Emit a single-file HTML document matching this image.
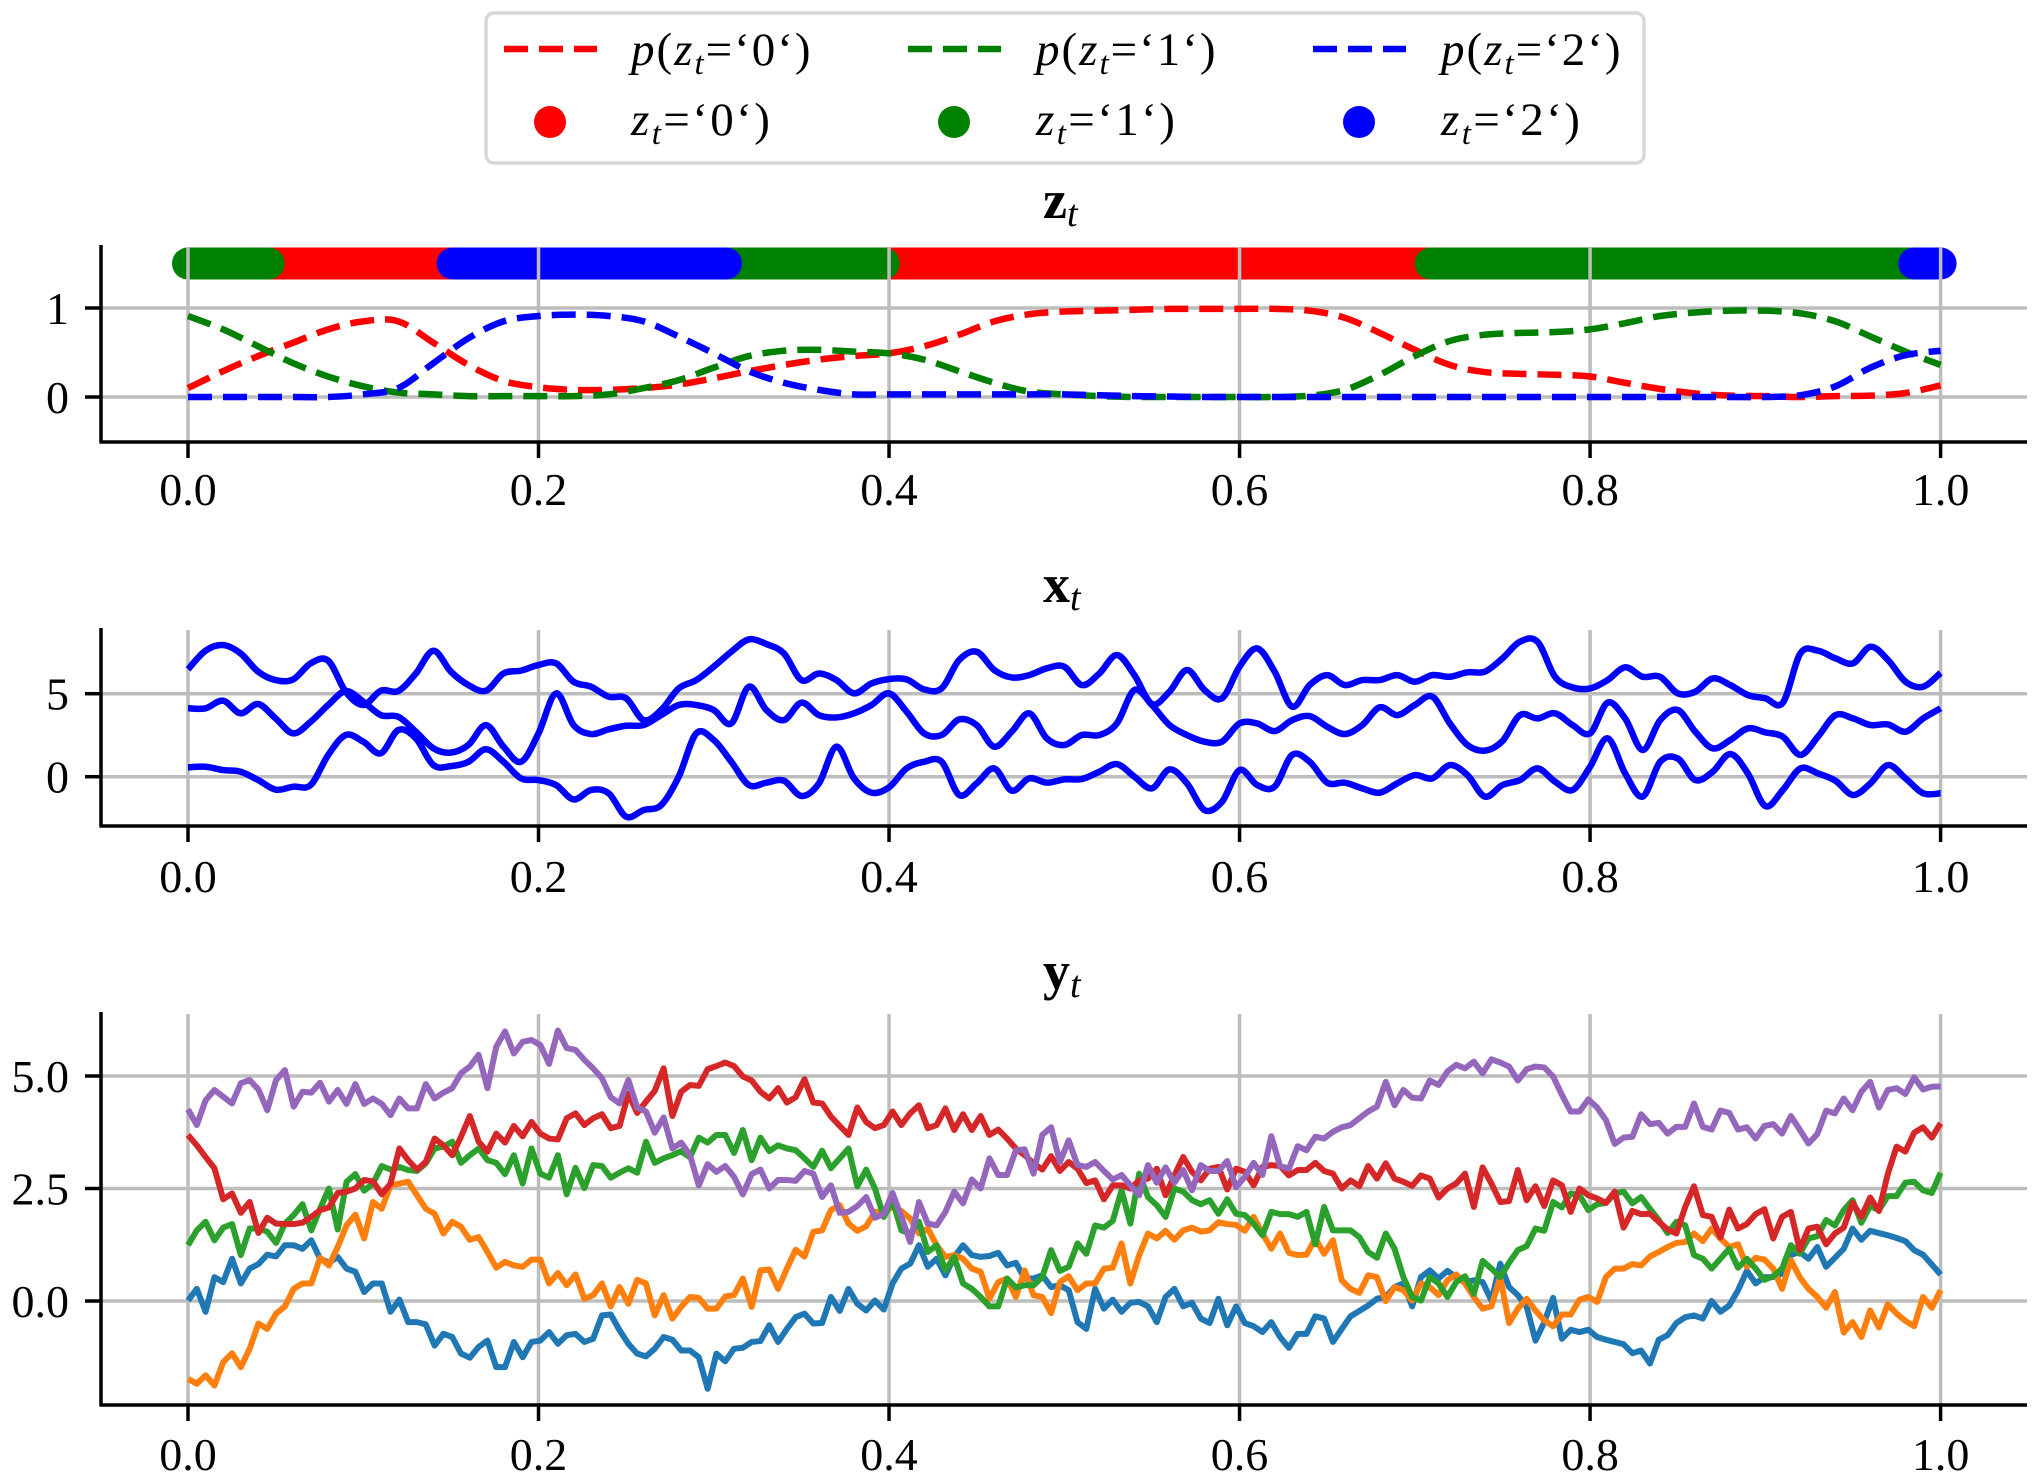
<!DOCTYPE html>
<html lang="en">
<head>
<meta charset="utf-8">
<title>Latent state, continuous state and observation time series</title>
<style>
html,body{margin:0;padding:0;background:#fff;}
svg{display:block;font-family:"Liberation Serif","DejaVu Serif",serif;}
</style>
</head>
<body>
<svg id="figure" xmlns="http://www.w3.org/2000/svg" width="2040" height="1481" viewBox="0 0 2040 1481">
  <rect x="0" y="0" width="2040" height="1481" fill="#fff"/>
  <g id="legend" font-size="47" fill="#000">
    <rect x="486" y="13" width="1158" height="150" rx="8" ry="8" fill="#fff" stroke="#d8d8d8" stroke-width="3.5"/>
    <line x1="504" y1="49" x2="597" y2="49" stroke="#ff0000" stroke-width="6.5" stroke-dasharray="24 11"/>
    <text x="631" y="65" letter-spacing="2"><tspan font-style="italic">p</tspan>(<tspan font-style="italic">z</tspan><tspan font-style="italic" font-size="33" dy="9">t</tspan><tspan dy="-9">=‘0‘)</tspan></text>
    <line x1="908" y1="49" x2="1001" y2="49" stroke="#008000" stroke-width="6.5" stroke-dasharray="24 11"/>
    <text x="1036" y="65" letter-spacing="2"><tspan font-style="italic">p</tspan>(<tspan font-style="italic">z</tspan><tspan font-style="italic" font-size="33" dy="9">t</tspan><tspan dy="-9">=‘1‘)</tspan></text>
    <line x1="1313" y1="49" x2="1406" y2="49" stroke="#0000ff" stroke-width="6.5" stroke-dasharray="24 11"/>
    <text x="1441" y="65" letter-spacing="2"><tspan font-style="italic">p</tspan>(<tspan font-style="italic">z</tspan><tspan font-style="italic" font-size="33" dy="9">t</tspan><tspan dy="-9">=‘2‘)</tspan></text>
    <circle cx="550" cy="122" r="16" fill="#ff0000"/>
    <text x="631" y="135" letter-spacing="2.4"><tspan font-style="italic">z</tspan><tspan font-style="italic" font-size="33" dy="9">t</tspan><tspan dy="-9">=‘0‘)</tspan></text>
    <circle cx="954" cy="122" r="16" fill="#008000"/>
    <text x="1036" y="135" letter-spacing="2.4"><tspan font-style="italic">z</tspan><tspan font-style="italic" font-size="33" dy="9">t</tspan><tspan dy="-9">=‘1‘)</tspan></text>
    <circle cx="1359" cy="122" r="16" fill="#0000ff"/>
    <text x="1441" y="135" letter-spacing="2.4"><tspan font-style="italic">z</tspan><tspan font-style="italic" font-size="33" dy="9">t</tspan><tspan dy="-9">=‘2‘)</tspan></text>
  </g>
  <text x="1043" y="218" font-size="54" font-weight="bold">z<tspan font-weight="normal" font-style="italic" font-size="38" dy="8">t</tspan></text>
  <text x="1043" y="602" font-size="54" font-weight="bold">x<tspan font-weight="normal" font-style="italic" font-size="38" dy="8">t</tspan></text>
  <text x="1043" y="989" font-size="54" font-weight="bold">y<tspan font-weight="normal" font-style="italic" font-size="38" dy="8">t</tspan></text>
  <g id="plots"></g>
</svg>
<script>
// ---- shared tick data ----
const xTickValues = [0, 0.2, 0.4, 0.6, 0.8, 1.0];
const xTickLabels = ['0.0', '0.2', '0.4', '0.6', '0.8', '1.0'];
const zTickValues = [0, 1];
const zTickLabels = ['0', '1'];
const xPanelTickValues = [0, 5];
const xPanelTickLabels = ['0', '5'];
const yTickValues = [0, 2.5, 5];
const yTickLabels = ['0.0', '2.5', '5.0'];

// ---- z panel: state segments (state index, start time, end time) ----
const zSegmentStates = [1, 0, 2, 1, 0, 1, 2];
const zSegmentStarts = [0, 0.046, 0.151, 0.307, 0.397, 0.709, 0.985];
const zSegmentEnds = [0.046, 0.151, 0.307, 0.397, 0.709, 0.985, 1.0];
const zBarLevel = 1.5;

// ---- z panel: posterior probabilities, sampled every 0.02 ----
const pState0 = [.10,.29,.46,.61,.76,.85,.85,.61,.36,.18,.11,.08,.08,.10,.14,.21,.29,.36,.42,.46,.49,.57,.70,.85,.93,.96,.97,.98,.99,.99,.99,.99,.97,.89,.72,.53,.36,.28,.26,.25,.23,.16,.09,.04,.015,.01,0,.01,.015,.045,.13];
const pState1 = [.91,.76,.57,.38,.23,.12,.05,.03,.01,.01,.01,.01,.03,.10,.19,.33,.46,.52,.53,.51,.49,.42,.29,.16,.06,.03,.01,0,0,0,0,0,.015,.08,.25,.46,.63,.70,.72,.73,.76,.83,.91,.95,.97,.97,.94,.85,.68,.51,.36];
const pState2 = [0,0,0,0,0,.03,.10,.38,.66,.85,.91,.925,.91,.85,.68,.49,.29,.16,.08,.03,.03,.03,.03,.03,.03,.03,.02,.01,.005,0,0,0,0,0,0,0,0,0,0,0,0,0,0,0,0,0,.02,.12,.33,.47,.52];

// ---- x panel: three latent dimensions, sampled every 0.01 ----
const xSeriesA = [6.47,7.59,7.93,7.43,6.33,5.82,5.86,6.83,6.99,5.12,4.32,5.18,5.16,6.22,7.59,6.33,5.52,5.18,6.22,6.39,6.73,6.83,5.72,5.42,4.82,4.72,3.41,4.02,5.32,5.82,6.63,7.53,8.27,7.99,7.43,5.82,6.22,5.82,5.02,5.62,5.88,5.86,5.26,5.32,7.03,7.53,6.43,5.98,6.12,6.53,6.63,5.52,6.22,7.33,6.12,4.38,5.12,6.43,5.22,4.72,6.63,7.73,6.33,4.22,5.52,6.12,5.52,5.82,5.82,6.12,5.72,6.12,6.02,6.29,6.33,7.13,8.13,8.13,6.02,5.38,5.32,5.82,6.59,6.02,6.02,5.02,5.12,5.92,5.52,4.92,4.72,4.46,7.43,7.59,7.13,6.83,7.83,7.03,5.72,5.42,6.26];
const xSeriesB = [4.12,4.12,4.58,3.82,4.38,3.51,2.61,3.31,4.32,5.16,4.52,3.71,3.61,2.71,1.71,1.45,1.91,3.11,1.81,.90,2.61,5.02,3.11,2.57,2.85,3.07,3.11,3.71,4.32,4.32,4.02,3.21,5.42,4.02,3.41,4.46,3.71,3.57,3.82,4.32,5.02,3.92,2.61,2.51,3.45,3.11,1.81,2.71,3.82,2.31,1.91,2.51,2.51,3.21,5.22,4.32,3.11,2.51,2.11,2.11,3.21,3.21,2.75,3.41,3.65,3.01,2.57,3.11,4.18,3.71,4.32,4.82,3.21,1.91,1.57,2.15,3.71,3.51,3.82,3.11,2.61,4.46,3.51,1.61,3.41,4.02,2.71,1.71,2.21,2.91,2.67,2.41,1.31,2.41,3.71,3.51,3.11,3.15,2.71,3.51,4.12];
const xSeriesC = [.56,.60,.40,.30,-.20,-.78,-.60,-.50,1.31,2.51,2.11,1.41,2.81,2.31,.70,.64,.90,1.65,.90,-.10,-.20,-.50,-1.37,-.80,-1.00,-2.41,-2.01,-1.71,0,2.61,2.21,.90,-.50,-.36,-.24,-1.16,-.40,1.81,-.10,-.96,-.64,.50,.90,.90,-1.10,-.40,.50,-.84,-.10,-.36,-.16,-.14,.30,.76,0,-.70,.44,-.40,-2.01,-1.51,.40,-.50,-.60,1.31,.90,-.36,-.36,-.70,-.96,-.40,.10,-.10,.70,.10,-1.20,-.50,-.20,.50,-.30,-.80,.60,2.31,.20,-1.20,.90,1.10,-.20,.30,1.37,.20,-1.77,-.80,.50,.20,-.24,-1.10,-.40,.70,-.10,-1.00,-1.00];

// ---- y panel: five observed dimensions, 200 evenly spaced samples ----
const ySeriesBlue = [.01,.27,-.24,.53,.42,.94,.39,.72,.82,1.03,.99,1.24,1.24,1.16,1.35,.94,.85,.98,.72,.65,.20,.39,.39,-.24,.03,-.47,-.47,-.52,-.99,-.73,-.80,-1.17,-1.26,-1.02,-.88,-1.47,-1.47,-.91,-1.25,-.91,-.88,-.69,-.95,-.76,-.73,-.91,-.84,-.32,-.30,-.65,
-.95,-1.17,-1.23,-1.06,-.80,-.86,-1.10,-1.10,-1.25,-1.95,-1.17,-1.34,-1.06,-1.04,-.91,-.89,-.54,-.91,-.62,-.36,-.28,-.50,-.49,.09,-.22,.27,-.06,-.21,.01,-.19,.39,.72,.83,1.24,.76,.94,.57,.98,1.24,1.02,.98,1.0,1.07,.79,.85,.50,.50,.57,.31,.35,
.24,-.47,-.62,.27,-.17,.03,-.24,-.04,-.02,-.12,-.47,.09,.27,-.12,-.04,-.39,-.49,.05,-.54,-.12,-.49,-.56,-.69,-.47,-.80,-1.04,-.73,-.73,-.34,-.39,-.91,-.62,-.34,-.22,-.10,.05,.09,.31,.39,-.12,.53,.68,.50,.67,.53,.42,.46,.42,.01,.83,
.31,.13,-.13,-.88,-.47,.07,-.84,-.64,-.69,-.64,-.80,-.86,-.91,-.96,-1.16,-1.10,-1.39,-.86,-.76,-.49,-.36,-.32,-.39,0,-.24,-.10,.24,.67,.39,.53,.53,.61,1.02,1.09,.94,1.20,.76,.96,1.16,1.61,1.36,1.56,1.51,1.46,1.40,1.33,1.13,1.03,.81,.59];
const ySeriesOrange = [-1.73,-1.84,-1.65,-1.88,-1.36,-1.16,-1.47,-1.06,-.50,-.62,-.28,-.12,.27,.39,.39,.96,.79,1.20,1.68,1.92,1.39,2.20,2.05,2.57,2.61,2.65,2.35,2.05,1.94,1.50,1.76,1.65,1.36,1.42,1.09,.74,.87,.79,.76,.92,.92,.39,.62,.35,.59,.05,.13,.39,-.12,.31,
-.06,.47,.39,-.32,.13,-.39,-.13,.09,.07,-.17,-.17,.10,.13,.50,-.13,.68,.70,.27,.72,1.14,.99,1.54,1.57,2.02,2.13,1.72,1.56,1.66,1.98,1.98,2.09,2.00,1.83,1.50,1.61,1.24,.98,1.02,.94,.72,.65,.05,.42,.50,.09,.68,.13,.09,-.27,.42,
.55,.24,.39,.39,.72,.74,1.28,.39,1.02,1.50,1.39,1.56,1.36,1.57,1.63,1.54,1.57,1.75,1.71,1.69,1.56,1.87,1.50,1.16,1.50,1.07,1.02,1.03,1.39,1.05,1.35,.46,.27,.18,.57,.53,0,.31,.24,.01,.39,.31,.13,.46,.59,.39,.09,-.17,-.12,.53,
-.49,-.17,.05,-.21,-.43,-.56,-.30,-.30,.03,.09,-.02,.53,.72,.72,.82,.79,.99,1.09,1.20,1.29,1.31,1.50,1.33,1.61,1.39,1.20,1.26,.76,.96,.92,.72,.27,.91,.53,.27,.09,-.15,.20,-.70,-.47,-.80,-.21,-.59,-.07,-.28,-.44,-.56,.09,-.15,.24];
const ySeriesGreen = [1.24,1.57,1.76,1.35,1.63,1.71,1.02,1.61,1.61,1.54,1.29,1.72,1.91,2.15,1.57,2.05,2.50,1.59,2.65,2.82,2.45,2.61,3.0,2.92,2.98,2.91,2.89,3.06,3.39,3.43,3.54,3.07,3.24,3.39,3.13,3.07,2.82,3.24,2.61,3.39,2.83,2.74,3.24,2.37,2.96,2.51,3.02,3.0,2.74,2.85,
2.95,2.85,3.54,3.07,3.17,3.24,3.33,3.19,3.63,3.52,3.69,3.69,3.29,3.80,3.13,3.63,3.33,3.46,3.39,3.35,3.17,2.98,3.34,2.95,3.17,3.39,2.55,2.92,2.50,1.87,2.24,1.57,1.50,1.76,1.09,1.24,.68,.98,.39,.27,.09,-.12,-.12,.50,.30,.35,.35,.53,1.13,.67,
.76,1.28,1.05,1.68,1.63,1.78,2.46,1.72,2.83,2.31,2.13,1.87,2.50,2.43,2.24,2.15,2.24,1.94,2.26,1.94,1.91,1.72,1.46,1.98,1.93,1.93,1.87,1.98,1.26,2.09,1.57,1.57,1.57,1.42,1.09,.96,1.50,1.16,.53,.09,.01,.53,.39,.09,.42,.55,.16,.89,.72,.53,
.85,1.13,1.22,1.61,1.56,2.20,2.08,2.39,2.35,2.02,2.15,2.18,2.39,2.43,2.17,2.31,2.05,1.80,1.51,1.76,1.68,1.02,.94,.72,.94,1.16,.74,.94,.72,.47,.55,.72,1.24,1.05,1.39,1.44,1.80,1.68,2.02,2.24,1.74,2.11,2.02,2.33,2.33,2.63,2.65,2.46,2.40,2.85];
const ySeriesRed = [3.69,3.46,3.20,2.95,2.26,2.39,1.96,2.20,1.51,1.85,1.72,1.71,1.71,1.74,1.87,2.02,2.08,2.40,2.43,2.50,2.69,2.66,2.37,2.61,3.39,3.13,2.92,3.09,3.61,3.46,3.24,3.65,4.11,3.54,3.32,3.72,3.52,3.89,3.66,3.98,3.72,3.61,3.59,4.06,4.17,3.91,4.06,4.15,3.84,3.89,
4.61,4.18,4.43,4.67,5.17,4.11,4.65,4.80,4.78,5.15,5.22,5.30,5.22,4.99,4.90,4.65,4.50,4.73,4.41,4.53,4.93,4.41,4.39,4.10,3.89,3.69,4.30,3.98,3.84,3.91,4.21,3.91,4.17,4.35,3.84,3.91,4.28,3.80,4.15,3.80,4.11,3.69,3.81,3.61,3.39,3.24,3.06,2.92,3.22,2.89,
3.09,2.94,2.62,2.68,2.26,2.57,2.57,2.50,2.68,2.72,2.94,2.35,2.79,3.20,2.87,2.68,2.94,2.98,2.48,2.94,2.87,2.57,2.98,3.02,3.0,2.79,2.91,2.91,3.07,2.89,2.83,2.50,2.68,2.55,3.0,2.72,3.06,2.72,2.65,2.56,2.79,2.72,2.30,2.50,2.61,2.83,2.09,2.97,2.61,2.20,
2.22,2.91,2.24,2.55,2.11,2.68,2.57,1.98,2.50,2.35,2.28,2.18,2.43,1.63,2.00,1.93,1.94,1.76,1.59,1.50,2.09,2.55,1.91,1.87,1.41,2.03,1.61,1.71,1.93,2.04,1.39,1.87,1.98,1.14,1.61,1.65,1.26,1.50,1.63,2.18,1.87,2.30,2.00,2.82,3.43,3.32,3.74,3.86,3.63,3.95];
const ySeriesPurple = [4.26,3.91,4.46,4.69,4.54,4.39,4.84,4.91,4.70,4.24,4.91,5.13,4.32,4.65,4.63,4.85,4.43,4.69,4.38,4.82,4.38,4.50,4.38,4.13,4.50,4.28,4.28,4.82,4.50,4.63,4.73,5.06,5.21,5.47,4.73,5.65,5.99,5.50,5.76,5.80,5.69,5.27,6.01,5.62,5.58,5.36,5.17,4.95,4.53,4.39,
4.91,4.30,4.21,3.74,4.08,3.39,3.52,3.24,2.57,3.04,2.87,3.00,2.76,2.37,2.82,2.92,2.50,2.69,2.69,2.67,2.89,2.83,2.31,2.57,1.96,1.98,2.11,2.31,1.85,1.93,2.40,1.87,1.31,2.20,1.72,1.68,1.98,2.43,2.17,2.70,2.50,3.17,2.80,2.80,3.35,3.37,2.83,3.69,3.86,3.09,
3.57,3.02,2.98,3.09,2.89,2.70,2.80,2.57,2.35,3.02,2.63,2.97,2.63,2.91,2.46,3.02,2.89,2.89,3.11,2.53,2.76,3.07,2.80,3.66,3.0,2.94,3.44,3.35,3.65,3.61,3.76,3.86,3.91,4.06,4.21,4.32,4.87,4.35,4.69,4.52,4.50,4.90,4.80,5.10,5.25,5.17,5.32,5.06,5.37,5.30,
5.21,4.90,5.15,5.21,5.19,4.99,4.58,4.21,4.21,4.48,4.30,4.02,3.49,3.63,3.65,4.15,3.93,3.96,3.72,3.87,3.87,4.39,3.87,3.81,4.23,4.18,3.81,3.86,3.61,3.89,3.93,3.72,4.11,3.81,3.50,3.71,4.23,4.17,4.50,4.24,4.65,4.87,4.30,4.69,4.73,4.60,4.97,4.70,4.76,4.77];

const SVG_NS = 'http://www.w3.org/2000/svg';
const plots = document.getElementById('plots');

// axis functions
function xAxis(t) { return 188 + 1752.6 * t; }
function yAxisZ(v) { return 397 - 89 * v; }
function yAxisX(v) { return 776.7 - 16.6 * v; }
function yAxisY(v) { return 1301 - 45 * v; }

function make(tag, parent) {
  const el = document.createElementNS(SVG_NS, tag);
  parent.appendChild(el);
  return el;
}
function polyPath(values, yFn) {
  const n = values.length;
  let d = '';
  for (let i = 0; i < n; i++) {
    const px = xAxis(i / (n - 1));
    const py = yFn(values[i]);
    d += (i ? 'L' : 'M') + px.toFixed(2) + ' ' + py.toFixed(2);
  }
  return d;
}
function smoothPath(values, yFn) {
  const n = values.length;
  const pts = values.map(function (v, i) { return [xAxis(i / (n - 1)), yFn(v)]; });
  let d = 'M' + pts[0][0].toFixed(2) + ' ' + pts[0][1].toFixed(2);
  for (let i = 0; i < n - 1; i++) {
    const p0 = pts[Math.max(i - 1, 0)], p1 = pts[i], p2 = pts[i + 1], p3 = pts[Math.min(i + 2, n - 1)];
    const c1x = p1[0] + (p2[0] - p0[0]) / 6, c1y = p1[1] + (p2[1] - p0[1]) / 6;
    const c2x = p2[0] - (p3[0] - p1[0]) / 6, c2y = p2[1] - (p3[1] - p1[1]) / 6;
    d += 'C' + c1x.toFixed(2) + ' ' + c1y.toFixed(2) + ' ' + c2x.toFixed(2) + ' ' + c2y.toFixed(2) + ' ' + p2[0].toFixed(2) + ' ' + p2[1].toFixed(2);
  }
  return d;
}

function drawGrid(panel, key, yTicks, yFn, top, bottom) {
  const grid = make('g', panel);
  
  
  grid.setAttribute('stroke', '#bdbdbd');
  grid.setAttribute('stroke-width', '3.5');
  yTicks.forEach(function (v) {
    const line = make('line', grid);
    
    
    line.setAttribute('x1', 101);
    line.setAttribute('x2', 2027);
    line.setAttribute('y1', yFn(v));
    line.setAttribute('y2', yFn(v));
  });
  xTickValues.forEach(function (t) {
    const line = make('line', grid);
    
    
    line.setAttribute('x1', xAxis(t));
    line.setAttribute('x2', xAxis(t));
    line.setAttribute('y1', top);
    line.setAttribute('y2', bottom);
  });
}

function drawAxes(panel, key, yTicks, yLabels, yFn, top, bottom, xLabelBaseline) {
  const axes = make('g', panel);
  
  
  axes.setAttribute('stroke', '#000');
  axes.setAttribute('stroke-width', '3.5');
  const spineY = make('line', axes);
  
  
  spineY.setAttribute('x1', 101);
  spineY.setAttribute('x2', 101);
  spineY.setAttribute('y1', top - 2);
  spineY.setAttribute('y2', bottom + 1.5);
  const spineX = make('line', axes);
  
  
  spineX.setAttribute('x1', 100);
  spineX.setAttribute('x2', 2027);
  spineX.setAttribute('y1', bottom);
  spineX.setAttribute('y2', bottom);
  xTickValues.forEach(function (t, i) {
    const tick = make('line', axes);
    
    
    tick.setAttribute('x1', xAxis(t));
    tick.setAttribute('x2', xAxis(t));
    tick.setAttribute('y1', bottom);
    tick.setAttribute('y2', bottom + 16);
    const label = make('text', panel);
    
    
    label.setAttribute('x', xAxis(t));
    label.setAttribute('y', xLabelBaseline);
    label.setAttribute('text-anchor', 'middle');
    label.setAttribute('font-size', '46');
    label.textContent = xTickLabels[i];
  });
  yTicks.forEach(function (v, i) {
    const tick = make('line', axes);
    
    
    tick.setAttribute('x1', 85);
    tick.setAttribute('x2', 101);
    tick.setAttribute('y1', yFn(v));
    tick.setAttribute('y2', yFn(v));
    const label = make('text', panel);
    
    
    label.setAttribute('x', 69);
    label.setAttribute('y', yFn(v) + 16);
    label.setAttribute('text-anchor', 'end');
    label.setAttribute('font-size', '46');
    label.textContent = yLabels[i];
  });
}

// ---- z panel ----
const zPanel = make('g', plots);


const stateColors = ['#ff0000', '#008000', '#0000ff'];
const zBar = make('g', zPanel);


[0, 1, 2].forEach(function (state) {
  zSegmentStates.forEach(function (s, i) {
    if (s !== state) return;
    const seg = make('line', zBar);
    
    
    seg.setAttribute('x1', xAxis(zSegmentStarts[i]));
    seg.setAttribute('x2', xAxis(zSegmentEnds[i]));
    seg.setAttribute('y1', yAxisZ(zBarLevel));
    seg.setAttribute('y2', yAxisZ(zBarLevel));
    seg.setAttribute('stroke', stateColors[state]);
    seg.setAttribute('stroke-width', '32');
    seg.setAttribute('stroke-linecap', 'round');
  });
});
drawGrid(zPanel, 'z', zTickValues, yAxisZ, 247, 442);
[pState0, pState1, pState2].forEach(function (series, i) {
  const path = make('path', zPanel);
  
  
  path.setAttribute('d', smoothPath(series, yAxisZ));
  path.setAttribute('fill', 'none');
  path.setAttribute('stroke', stateColors[i]);
  path.setAttribute('stroke-width', '6.5');
  path.setAttribute('stroke-dasharray', '24 11');
});
drawAxes(zPanel, 'z', zTickValues, zTickLabels, yAxisZ, 247, 442, 505);

// ---- x panel ----
const xPanel = make('g', plots);


drawGrid(xPanel, 'x', xPanelTickValues, yAxisX, 630, 826);
[xSeriesA, xSeriesB, xSeriesC].forEach(function (series, i) {
  const path = make('path', xPanel);
  
  
  path.setAttribute('d', smoothPath(series, yAxisX));
  path.setAttribute('fill', 'none');
  path.setAttribute('stroke', '#0000ff');
  path.setAttribute('stroke-width', '6.5');
  path.setAttribute('stroke-linejoin', 'round');
});
drawAxes(xPanel, 'x', xPanelTickValues, xPanelTickLabels, yAxisX, 630, 826, 892);

// ---- y panel ----
const yPanel = make('g', plots);


drawGrid(yPanel, 'y', yTickValues, yAxisY, 1014, 1405);
const yColors = ['#1f77b4', '#ff7f0e', '#2ca02c', '#d62728', '#9467bd'];
[ySeriesBlue, ySeriesOrange, ySeriesGreen, ySeriesRed, ySeriesPurple].forEach(function (series, i) {
  const path = make('path', yPanel);
  
  
  path.setAttribute('d', polyPath(series, yAxisY));
  path.setAttribute('fill', 'none');
  path.setAttribute('stroke', yColors[i]);
  path.setAttribute('stroke-width', '6');
  path.setAttribute('stroke-linejoin', 'round');
});
drawAxes(yPanel, 'y', yTickValues, yTickLabels, yAxisY, 1014, 1405, 1470);
</script>
</body>
</html>
